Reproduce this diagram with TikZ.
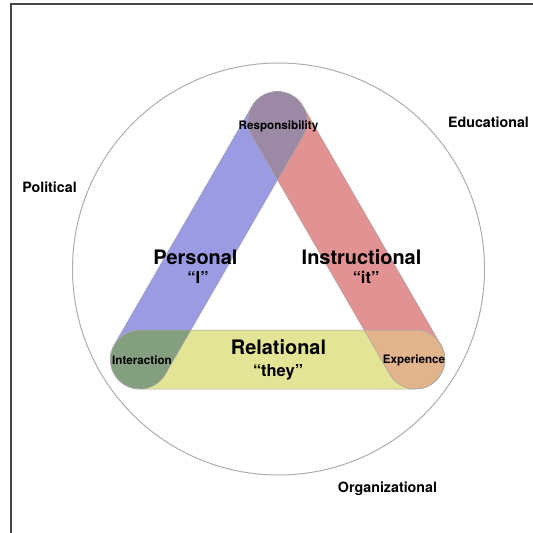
\documentclass[tikz,border=0pt]{standalone}
\usepackage{fontspec}
\setmainfont{TeX Gyre Heros}
\usetikzlibrary{positioning}
\definecolor{personalblue}{RGB}{155,155,228}
\definecolor{instructred}{RGB}{226,146,146}
\definecolor{relationyellow}{RGB}{228,228,150}
\definecolor{respmauve}{RGB}{155,137,165}
\definecolor{interactgreen}{RGB}{132,158,128}
\definecolor{experorange}{RGB}{226,180,140}
\tikzstyle{biglabel}=[font=\fontsize{20}{24}\selectfont\bfseries, inner sep=0pt, anchor=base]
\tikzstyle{quotelabel}=[font=\fontsize{16.5}{20}\selectfont\bfseries, inner sep=0pt, anchor=base]
\tikzstyle{cornerlabel}=[font=\fontsize{11.7}{13}\selectfont\bfseries, inner sep=0pt, anchor=base]
\tikzstyle{outerlabel}=[font=\fontsize{14.3}{17}\selectfont\bfseries, inner sep=0pt, anchor=base]
\tikzstyle{capedge}=[draw=black!35, line width=0.5bp]
\tikzstyle{ringline}=[draw=black!32, line width=1bp]
\tikzstyle{frameline}=[draw=black!72, line width=2bp]
\newcommand{\rr}{29.5}
\newcommand{\len}{275.5}
% one band of the triangle: start point, angle, path options
\newcommand{\capsule}[3]{\path[#3,shift={(#1)},rotate=#2,rounded corners=\rr bp]
  (-\rr,-\rr) rectangle (\len+\rr,\rr);}
\begin{document}
\begin{tikzpicture}[x=1bp,y=-1bp]
\useasboundingbox (0,0) rectangle (533,533);
\draw[frameline] (11,533) -- (11,4) -- (533,4);

\coordinate (top) at (277.5,121);
\coordinate (left) at (140,359.5);
\coordinate (right) at (415.5,359.5);
\coordinate (mid) at (278.5,269);
\draw[ringline] (mid) circle (206);

% bands
\capsule{top}{240}{fill=personalblue}
\capsule{top}{-60}{fill=instructred}
\capsule{left}{0}{fill=relationyellow}

% overlaps
\begin{scope}
\capsule{top}{240}{clip}
\capsule{top}{-60}{fill=respmauve}
\end{scope}
\begin{scope}
\capsule{top}{240}{clip}
\capsule{left}{0}{fill=interactgreen}
\end{scope}
\begin{scope}
\capsule{top}{-60}{clip}
\capsule{left}{0}{fill=experorange}
\end{scope}

\capsule{top}{240}{capedge}
\capsule{top}{-60}{capedge}
\capsule{left}{0}{capedge}

\node (resp) [cornerlabel] at (278.5,130) {Responsibility};
\node (inter) [cornerlabel] at (142,364) {Interaction};
\node (exper) [cornerlabel] at (414,363) {Experience};

\node (personal) [biglabel] at (195.5,264) {Personal};
\node (personalq) [quotelabel] at (198,283) {“I”};
\node (instruct) [biglabel] at (361.5,264) {Instructional};
\node (instructq) [quotelabel] at (366,283) {“it”};
\node (relation) [biglabel] at (278.5,354) {Relational};
\node (relationq) [quotelabel] at (278,376) {“they”};

\node (political) [outerlabel] at (49.5,193) {Political};
\node (educational) [outerlabel] at (488.5,128) {Educational};
\node (organizational) [outerlabel] at (387.5,492) {Organizational};
\end{tikzpicture}
\end{document}
